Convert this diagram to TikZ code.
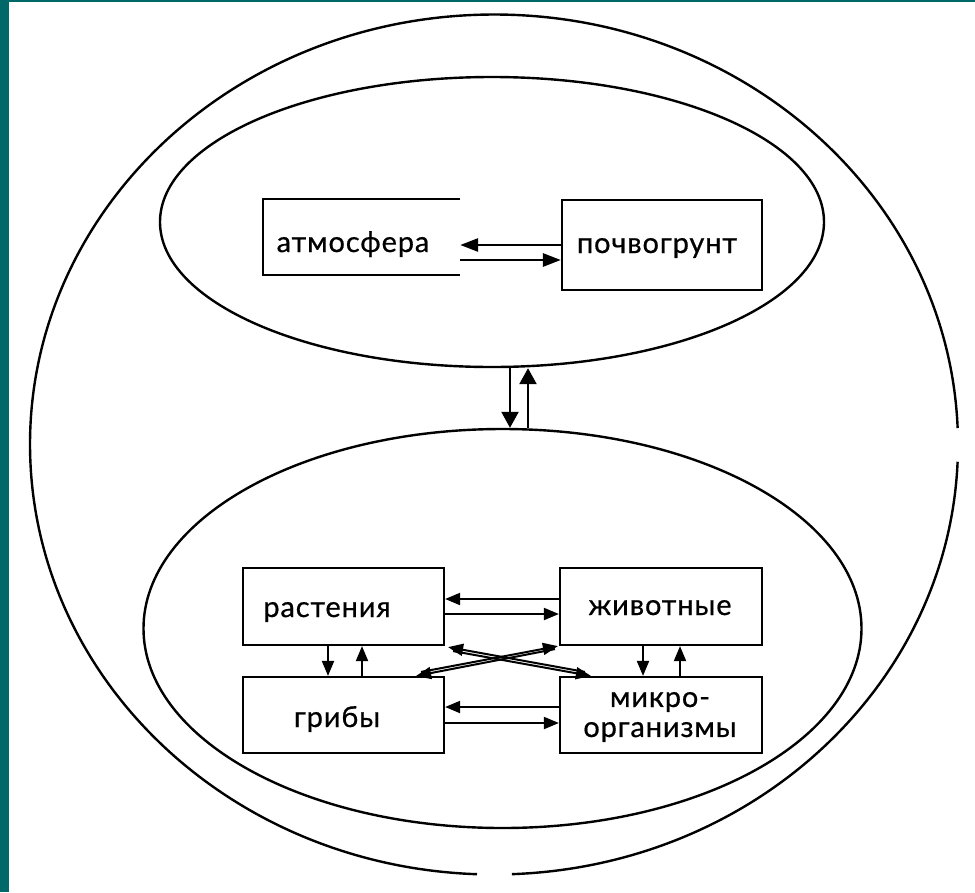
\documentclass[tikz,border=0pt]{standalone}
\usepackage{fontspec}
\setmainfont{Lato}
\newfontfamily\lblfont[LetterSpace=3,FakeBold=0.6]{Lato}
\usetikzlibrary{arrows.meta,shapes.geometric,calc}
\definecolor{teal}{RGB}{0,104,104}
\tikzset{
  ring/.style={draw, line width=2.4pt, ellipse, inner sep=0pt},
  boxnode/.style={draw, line width=2.2pt, rectangle, inner sep=0pt},
  lbl/.style={font=\lblfont\fontsize{29}{30}\selectfont, inner sep=0pt, anchor=base},
  arr/.style={line width=2pt, -{Triangle[length=15pt,width=12pt]}},
  bigarr/.style={line width=2.8pt, -{Triangle[length=18pt,width=13pt]}},
  varr/.style={line width=2.4pt, -{Triangle[length=16pt,width=17pt]}}
}
\begin{document}
\begin{tikzpicture}[x=1pt,y=1pt]
\useasboundingbox (0,0) rectangle (975,-892);
\fill[white] (0,0) rectangle (975,-892);
\fill[teal] (0,0) rectangle (8.5,-892);
\fill[teal] (0,0) rectangle (975,-2);

% outer ring with two gaps
\coordinate (oc) at (494,-444.5);
\draw[line width=2.4pt] ($(oc)+(2.2:464pt and 430pt)$) arc[start angle=2.2, end angle=267.9, x radius=464pt, y radius=430pt];
\draw[line width=2.4pt] ($(oc)+(272.2:464pt and 430pt)$) arc[start angle=272.2, end angle=357.7, x radius=464pt, y radius=430pt];

% inner rings
\node[ring, minimum width=664pt, minimum height=290pt] (topE) at (492,-222) {};
\node[ring, minimum width=718pt, minimum height=399pt] (lowE) at (502.5,-628.5) {};

% upper boxes
\node[rectangle, inner sep=0pt, minimum width=197pt, minimum height=76pt] (atm) at (361.5,-237) {};
\draw[line width=2.2pt] (atm.north east) -- (atm.north west) -- (atm.south west) -- (atm.south east);
\node[lbl] (atmT) at (353,-252) {атмосфера};
\node[boxnode, minimum width=200pt, minimum height=90pt] (poch) at (662,-245) {};
\node[lbl] (pochT) at (657,-253) {почвогрунт};

\coordinate (p1) at (poch.west);
\coordinate (p2) at ([yshift=-15pt]poch.west);
\draw[bigarr] (p1) -- (atm.east |- p1);
\draw[bigarr] (atm.east |- p2) -- (p2);

% arrows between rings
\draw[varr] ([xshift=18pt]topE.south) -- ([xshift=7.5pt]lowE.north);
\draw[varr] ([xshift=25.5pt]lowE.north) -- ([xshift=36pt]topE.south);

% lower boxes
\node[boxnode, minimum width=201pt, minimum height=77pt] (rast) at (343.5,-606.5) {};
\node[boxnode, minimum width=202pt, minimum height=77pt] (zhiv) at (661,-606.5) {};
\node[boxnode, minimum width=201pt, minimum height=76pt] (grib) at (343.5,-715) {};
\node[boxnode, minimum width=202pt, minimum height=76pt] (mikro) at (661,-715) {};
\node[lbl] (rastT) at (327,-617) {растения};
\node[lbl] (zhivT) at (660,-615) {животные};
\node[lbl] (gribT) at (337,-727) {грибы};
\node[font=\lblfont\fontsize{29}{30}\selectfont, inner sep=0pt, align=center] (mikroT) at (660,-717) {микро-\\организмы};

% horizontal arrows
\draw[arr] ([yshift=7.5pt]zhiv.west) -- ([yshift=7.5pt]rast.east);
\draw[arr] ([yshift=-7.5pt]rast.east) -- ([yshift=-7.5pt]zhiv.west);
\draw[arr] ([yshift=8pt]mikro.west) -- ([yshift=8pt]grib.east);
\draw[arr] ([yshift=-8pt]grib.east) -- ([yshift=-8pt]mikro.west);

% vertical arrows
\draw[arr] ([xshift=-15.5pt]rast.south) -- ([xshift=-15.5pt]grib.north);
\draw[arr] ([xshift=18.5pt]grib.north) -- ([xshift=18.5pt]rast.south);
\draw[arr] ([xshift=-18pt]zhiv.south) -- ([xshift=-18pt]mikro.north);
\draw[arr] ([xshift=19pt]mikro.north) -- ([xshift=19pt]zhiv.south);

% crossing arrows
\draw[arr] ([shift={(8,-5)}]rast.south east) -- ([shift={(32,0)}]mikro.north west);
\draw[arr] ([shift={(26,4)}]mikro.north west) -- ([shift={(3,-1)}]rast.south east);
\draw[arr] ([shift={(-4,-3)}]zhiv.south west) -- ([shift={(-29,0)}]grib.north east);
\draw[arr] ([shift={(-24,4)}]grib.north east) -- ([shift={(-1,0)}]zhiv.south west);
\end{tikzpicture}
\end{document}
